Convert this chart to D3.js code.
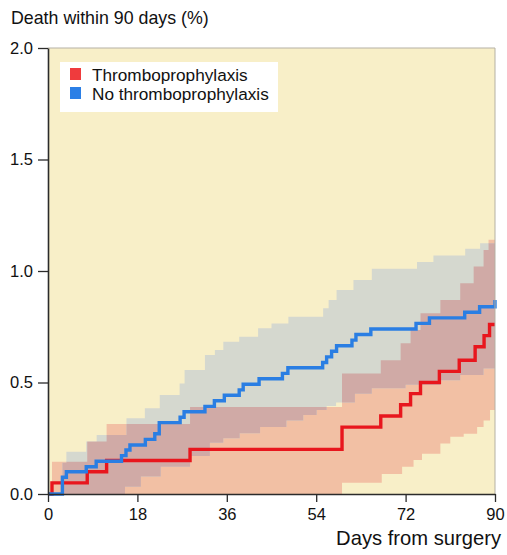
<!DOCTYPE html>
<meta charset="utf-8">
<style>
    body {
        margin: 0;
        background: #fff;
        font-family: "Liberation Sans", Arial, sans-serif;
    }
</style>

<body>
    <script src="https://cdn.jsdelivr.net/npm/d3@7"></script>
    <script>
        // step curves: [day, death %]
        var redLine = [[0, 0], [0.8, 0.05], [7.9, 0.1], [11.8, 0.15], [28.6, 0.2], [59.2, 0.3], [67, 0.35],
            [71, 0.4], [73, 0.45], [75, 0.5], [78.8, 0.55], [82.8, 0.6], [86, 0.66], [87.8, 0.71], [88.9, 0.76], [90, 0.76]];
        var blueLine = [[0, 0], [2.9, 0.075], [3.7, 0.1], [7.7, 0.122], [9.7, 0.147], [14.8, 0.172], [15.7, 0.197],
            [16.5, 0.22], [19.6, 0.245], [21.5, 0.27], [22.4, 0.32], [26.6, 0.344], [27.4, 0.369], [31.6, 0.393],
            [33.5, 0.418], [35.5, 0.443], [38.5, 0.467], [39.3, 0.492], [42.5, 0.517], [47.2, 0.541], [48.3, 0.566],
            [55.3, 0.59], [56.1, 0.615], [57.1, 0.64], [58.1, 0.665], [61.2, 0.69], [62, 0.715], [65, 0.74],
            [74.1, 0.765], [76.8, 0.79], [83.9, 0.815], [86.9, 0.84], [89.9, 0.84], [90, 0.87]];

        // 95% bands
        var redUpper = [[0, 0], [0.8, 0.145], [7.9, 0.235], [11.8, 0.314], [28.6, 0.39], [59.2, 0.54], [67, 0.6],
            [71, 0.676], [73, 0.735], [75, 0.81], [79, 0.87], [83, 0.945], [85.7, 1.02], [87.7, 1.094], [88.7, 1.14]];
        var redLower = [[0, 0], [59.2, 0.051], [67.2, 0.09], [71.3, 0.122], [73.6, 0.152], [75.3, 0.18], [79, 0.227],
            [81, 0.257], [83.7, 0.27], [86.4, 0.3], [87.7, 0.33], [89, 0.377]];
        var blueUpper = [[0, 0], [2.9, 0.14], [3.7, 0.19], [7.7, 0.235], [9.8, 0.265], [15.8, 0.34], [19.5, 0.385],
            [22.5, 0.444], [26.5, 0.496], [27.5, 0.556], [31.6, 0.623], [33.6, 0.646], [35.3, 0.683], [38.5, 0.705],
            [42.3, 0.743], [45, 0.765], [48.4, 0.795], [55.4, 0.833], [56.5, 0.87], [58.1, 0.915], [61.5, 0.96],
            [65.2, 1.01], [74.3, 1.04], [77.6, 1.07], [84, 1.1], [87, 1.124]];
        var blueLower = [[0, 0], [15.5, 0.033], [18.7, 0.078], [22.7, 0.122], [28.6, 0.17], [32.6, 0.23], [35.3, 0.25],
            [38.6, 0.272], [42.7, 0.3], [48, 0.33], [51.4, 0.354], [54.1, 0.377], [56.1, 0.395], [58, 0.41],
            [61.8, 0.45], [65.2, 0.474], [72, 0.49], [79, 0.51], [83, 0.534], [87.7, 0.563]];

        var xTicks = [0, 18, 36, 54, 72, 90],
            yTicks = [0, 0.5, 1, 1.5, 2],
            legendLabels = ["Thromboprophylaxis", "No thromboprophylaxis"];

        var width = 507,
            height = 555;

        var x = d3.scaleLinear().domain([0, 90]).range([48, 495]),
            y = d3.scaleLinear().domain([0, 2]).range([494, 48]);

        var svg = d3.select("body").append("svg")
            .attr("width", width)
            .attr("height", height);

        svg.append("rect")
            .attr("x", x(0)).attr("y", y(2))
            .attr("width", x(90) - x(0)).attr("height", y(0) - y(2))
            .attr("fill", "#f8efc8");

        // value of a step function at day t
        function stepAt(arr, t) {
            var v = arr[0][1];
            arr.forEach(function (d) { if (d[0] <= t) v = d[1]; });
            return v;
        }

        function bandData(lo, hi) {
            var days = d3.sort(Array.from(new Set(lo.map(d => d[0]).concat(hi.map(d => d[0]), [90]))));
            return days.map(function (t) { return { t: t, lo: stepAt(lo, t), hi: stepAt(hi, t) }; });
        }

        var area = d3.area()
            .curve(d3.curveStepAfter)
            .x(d => x(d.t))
            .y0(d => y(d.lo))
            .y1(d => y(d.hi));

        var redBand = bandData(redLower, redUpper),
            blueBand = bandData(blueLower, blueUpper);

        svg.append("clipPath").attr("id", "blueclip")
            .append("path").attr("d", area(blueBand));

        svg.append("path").attr("d", area(redBand)).attr("fill", "#f2c0a4");
        svg.append("path").attr("d", area(blueBand)).attr("fill", "#d5d8cf");
        svg.append("path").attr("d", area(redBand)).attr("fill", "#d0aaa6")
            .attr("clip-path", "url(#blueclip)");

        var line = d3.line()
            .curve(d3.curveStepAfter)
            .x(d => x(d[0]))
            .y(d => y(d[1]));

        svg.append("path").attr("d", line(redLine))
            .attr("fill", "none").attr("stroke", "#e8161d").attr("stroke-width", 3.4);
        svg.append("path").attr("d", line(blueLine))
            .attr("fill", "none").attr("stroke", "#2a7ee3").attr("stroke-width", 3.4);

        // frame on top and right
        svg.append("path")
            .attr("d", "M" + x(0) + "," + y(2) + "H" + x(90) + "V" + y(0))
            .attr("fill", "none").attr("stroke", "#b5b1a5").attr("stroke-width", 1);

        var xAxis = svg.append("g")
            .attr("transform", "translate(0," + y(0) + ")")
            .call(d3.axisBottom(x).tickValues(xTicks).tickSize(8).tickPadding(6).tickSizeOuter(0));
        var yAxis = svg.append("g")
            .attr("transform", "translate(" + x(0) + ",0)")
            .call(d3.axisLeft(y).tickValues(yTicks).tickFormat(d3.format(".1f")).tickSize(10).tickPadding(5).tickSizeOuter(0));

        [xAxis, yAxis].forEach(function (g) {
            g.select(".domain").attr("stroke", "#2b2b2b").attr("stroke-width", 1.6);
            g.selectAll(".tick line").attr("stroke", "#2b2b2b").attr("stroke-width", 1.3);
            g.selectAll(".tick text").attr("fill", "#111");
            g.attr("font-size", 16.5).attr("font-family", null);
        });

        svg.append("text")
            .attr("x", 11).attr("y", 24)
            .attr("font-size", 17.8).attr("fill", "#111")
            .text("Death within 90 days (%)");

        svg.append("text")
            .attr("x", 501).attr("y", 545)
            .attr("text-anchor", "end")
            .attr("font-size", 20.2).attr("fill", "#111")
            .text("Days from surgery");

        // legend
        var legend = svg.append("g");
        legend.append("rect")
            .attr("x", 60).attr("y", 62).attr("width", 218).attr("height", 50)
            .attr("fill", "#fff");
        var colors = ["#ef3b3d", "#2b7fe6"];
        legendLabels.forEach(function (l, i) {
            legend.append("rect")
                .attr("x", 70).attr("y", 68 + i * 19).attr("width", 11).attr("height", 12)
                .attr("fill", colors[i]);
            legend.append("text")
                .attr("x", 92).attr("y", 81 + i * 19)
                .attr("font-size", 17.2).attr("fill", "#111")
                .text(l);
        });
    </script>
</body>
